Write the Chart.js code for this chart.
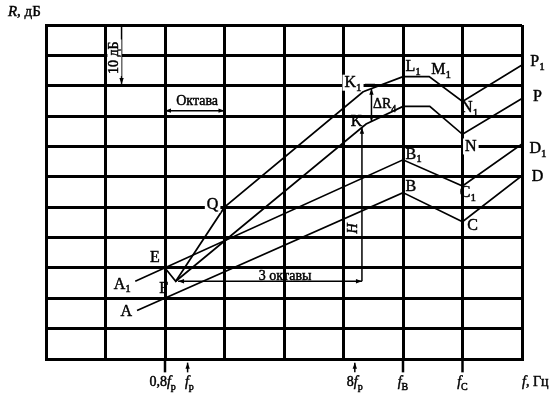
<!DOCTYPE html>
<html>
<head>
<meta charset="utf-8">
<script src="https://cdn.jsdelivr.net/npm/chart.js@4.4.1/dist/chart.umd.min.js"></script>
<style>
  html, body { margin: 0; padding: 0; background: #fff; }
</style>
</head>
<body>
<canvas id="c" width="550" height="399"></canvas>
<script>
/* -------- Daten: x in Oktaven (8 Spalten), y in dB (11 Zeilen à 5 dB) -------- */
const xRange = [0, 8];
const yRange = [0, 55];
const yStep = 5;

// A – B – C – D
const curveA_x = [1.53, 6, 7, 8];
const curveA_y = [8.0, 27.4, 22.6, 30.2];

// A1 – B1 – C1 – D1
const curveA1_x = [1.5, 6, 7, 8];
const curveA1_y = [12.8, 32.8, 28.5, 35.4];

// E – F – Q – K1 – L1 – M1 – N1 – P1
const curveUp_x = [2.0, 2.18, 3.0, 5.33, 6.0, 6.44, 7, 8];
const curveUp_y = [15.0, 12.8, 25.0, 44.0, 46.5, 46.5, 42.4, 48.4];

// F – K – L – M – N – P
const curveLow_x = [2.18, 5.38, 6.0, 6.45, 7, 8];
const curveLow_y = [12.8, 38.7, 41.6, 41.6, 37.0, 42.9];

// Frequenzmarken unter der Achse
const freqMarks = [
  { u: 2.0,  du: -0.04, runs: [{ t: "0,8" }, { t: "f", it: true }, { t: "р", sub: true }], grid: true },
  { u: 2.38, du: 0.03,  runs: [{ t: "f", it: true }, { t: "р", sub: true }], grid: false },
  { u: 5.19, du: 0,     runs: [{ t: "8" }, { t: "f", it: true }, { t: "р", sub: true }], grid: false },
  { u: 6.0,  du: 0,     runs: [{ t: "f", it: true }, { t: "В", sub: true }], grid: true },
  { u: 7.0,  du: 0,     runs: [{ t: "f", it: true }, { t: "С", sub: true }], grid: true }
];

/* -------- Beschriftungen (Datenkoordinaten) -------- */
const pointLabels = [
  { u: 8.26, v: 48.9, runs: [{ t: "P" }, { t: "1", sub: true }] },
  { u: 8.26, v: 43.2, runs: [{ t: "P" }] },
  { u: 8.27, v: 34.6, runs: [{ t: "D" }, { t: "1", sub: true }] },
  { u: 8.26, v: 30.0, runs: [{ t: "D" }] },
  { u: 6.17, v: 48.1, runs: [{ t: "L" }, { t: "1", sub: true }] },
  { u: 6.64, v: 47.6, runs: [{ t: "M" }, { t: "1", sub: true }] },
  { u: 5.16, v: 45.5, runs: [{ t: "K" }, { t: "1", sub: true }], bg: true },
  { u: 5.69, v: 41.9, runs: [{ t: "ΔR" }, { t: "4", sub: true }], size: 14 },
  { u: 5.22, v: 39.0, runs: [{ t: "K" }] },
  { u: 7.12, v: 41.3, runs: [{ t: "N" }, { t: "1", sub: true }] },
  { u: 7.14, v: 35.0, runs: [{ t: "N" }], bg: true },
  { u: 6.18, v: 33.7, runs: [{ t: "B" }, { t: "1", sub: true }] },
  { u: 6.13, v: 28.4, runs: [{ t: "B" }] },
  { u: 7.09, v: 27.4, runs: [{ t: "C" }, { t: "1", sub: true }] },
  { u: 7.17, v: 21.9, runs: [{ t: "C" }] },
  { u: 2.8,  v: 25.4, runs: [{ t: "Q" }], bg: true },
  { u: 1.83, v: 16.6, runs: [{ t: "E" }] },
  { u: 1.98, v: 11.6, runs: [{ t: "F" }] },
  { u: 1.28, v: 12.3, runs: [{ t: "A" }, { t: "1", sub: true }] },
  { u: 1.35, v: 7.7,  runs: [{ t: "A" }] },
  { u: 2.54, v: 42.5, runs: [{ t: "Октава" }], size: 14 },
  { u: 4.02, v: 13.6, runs: [{ t: "3 октавы" }], size: 14 },
  { u: -0.64, v: 57.1, runs: [{ t: "R", it: true }, { t: ", дБ" }], size: 15, align: "left" },
  { u: 8.0, v: -3.9, runs: [{ t: "f", it: true }, { t: ", Гц" }], size: 14, align: "left" },
  { u: 1.15, v: 49.6, runs: [{ t: "10 дБ" }], size: 14, rot: true, bg: true },
  { u: 5.16, v: 21.5, runs: [{ t: "H", it: true }], size: 14, rot: true }
];

/* -------- Text-Helfer -------- */
const FONT = '"Liberation Serif", "DejaVu Serif", serif';

function runFont(r, size) {
  return (r.it ? "italic " : "") + (r.sub ? Math.round(size * 0.68) : size) + "px " + FONT;
}

function drawRuns(ctx, runs, x, y, size, align, bg, rot) {
  ctx.save();
  ctx.translate(x, y);
  if (rot) ctx.rotate(-Math.PI / 2);
  let w = 0;
  runs.forEach(r => { ctx.font = runFont(r, size); w += ctx.measureText(r.t).width; });
  let cx = align === "left" ? 0 : -w / 2;
  if (bg) {
    ctx.fillStyle = "#fff";
    ctx.fillRect(cx - 2, -size * 0.5, w + 4, size * 1.0);
  }
  ctx.fillStyle = "#000";
  ctx.strokeStyle = "#000";
  ctx.lineWidth = 0.45;   // etwas kräftiger wie im Scan
  ctx.textBaseline = "middle";
  ctx.textAlign = "left";
  runs.forEach(r => {
    ctx.font = runFont(r, size);
    const ty = r.sub ? size * 0.32 : 0;
    ctx.fillText(r.t, cx, ty);
    ctx.strokeText(r.t, cx, ty);
    cx += ctx.measureText(r.t).width;
  });
  ctx.restore();
}

function arrowHead(ctx, x, y, dx, dy) {
  const len = 6, half = 2.2;
  const px = -dy, py = dx;
  ctx.beginPath();
  ctx.moveTo(x, y);
  ctx.lineTo(x - dx * len + px * half, y - dy * len + py * half);
  ctx.lineTo(x - dx * len - px * half, y - dy * len - py * half);
  ctx.closePath();
  ctx.fill();
}

function segment(ctx, x1, y1, x2, y2, w) {
  ctx.lineWidth = w;
  ctx.beginPath();
  ctx.moveTo(x1, y1);
  ctx.lineTo(x2, y2);
  ctx.stroke();
}

/* -------- Plugin für Pfeile und Beschriftungen -------- */
const annotPlugin = {
  id: "annot",
  afterDraw(chart) {
    const ctx = chart.ctx;
    const xs = chart.scales.x, ys = chart.scales.y;
    const X = u => xs.getPixelForValue(u);
    const Y = v => ys.getPixelForValue(v);
    ctx.save();
    ctx.strokeStyle = "#000";
    ctx.fillStyle = "#000";

    // 10 dB
    segment(ctx, X(1.27), Y(55), X(1.27), Y(45.3), 1.5);
    arrowHead(ctx, X(1.27), Y(45.3), 0, 1);

    // Oktave
    segment(ctx, X(2.0), Y(40.9), X(3.0), Y(40.9), 1.5);
    arrowHead(ctx, X(2.0), Y(40.9), -1, 0);
    arrowHead(ctx, X(3.0), Y(40.9), 1, 0);

    // Delta R4
    segment(ctx, X(5.47), Y(44.5), X(5.47), Y(39.1), 1.5);
    arrowHead(ctx, X(5.47), Y(44.5), 0, -1);
    arrowHead(ctx, X(5.47), Y(39.1), 0, 1);

    // K1 Hinweislinie
    segment(ctx, X(5.36), Y(45.2), X(5.53), Y(45.2), 1.5);

    // H
    segment(ctx, X(5.31), Y(38.1), X(5.31), Y(12.8), 1.5);
    arrowHead(ctx, X(5.31), Y(38.1), 0, -1);

    // 3 Oktaven
    segment(ctx, X(2.22), Y(12.8), X(5.31), Y(12.8), 1.5);
    arrowHead(ctx, X(2.22), Y(12.8), -1, 0);
    arrowHead(ctx, X(5.31), Y(12.8), 1, 0);

    // Frequenzmarken
    freqMarks.forEach(m => {
      if (m.grid) {
        segment(ctx, X(m.u), Y(0), X(m.u), Y(-2.2), 2.5);
      } else {
        segment(ctx, X(m.u), Y(-0.6), X(m.u), Y(-2.2), 1.5);
        arrowHead(ctx, X(m.u), Y(-0.6), 0, -1);
      }
      drawRuns(ctx, m.runs, X(m.u + m.du), Y(-3.9), 14, "center", false, false);
    });

    pointLabels.forEach(l => {
      drawRuns(ctx, l.runs, X(l.u), Y(l.v), l.size || 16, l.align || "center", l.bg, l.rot);
    });
    ctx.restore();
  }
};

/* -------- Chart -------- */
function makeSet(xv, yv) {
  return {
    data: xv.map((x, i) => ({ x, y: yv[i] })),
    showLine: true,
    borderColor: "#000",
    borderWidth: 1.7,
    pointRadius: 0,
    tension: 0,
    fill: false
  };
}

const axisStyle = {
  grid: { color: "#000", lineWidth: 3, drawTicks: false },
  border: { color: "#000", width: 3 }
};

new Chart(document.getElementById("c").getContext("2d"), {
  type: "scatter",
  data: {
    datasets: [
      makeSet(curveA_x, curveA_y),
      makeSet(curveA1_x, curveA1_y),
      makeSet(curveUp_x, curveUp_y),
      makeSet(curveLow_x, curveLow_y)
    ]
  },
  options: {
    responsive: false,
    animation: false,
    layout: { padding: { left: 46, right: 28, top: 25, bottom: 40 } },
    plugins: { legend: { display: false }, tooltip: { enabled: false } },
    scales: {
      x: { type: "linear", min: xRange[0], max: xRange[1], ticks: { display: false, stepSize: 1 }, ...axisStyle },
      y: { type: "linear", min: yRange[0], max: yRange[1], ticks: { display: false, stepSize: yStep }, ...axisStyle }
    }
  },
  plugins: [annotPlugin]
});
</script>
</body>
</html>
